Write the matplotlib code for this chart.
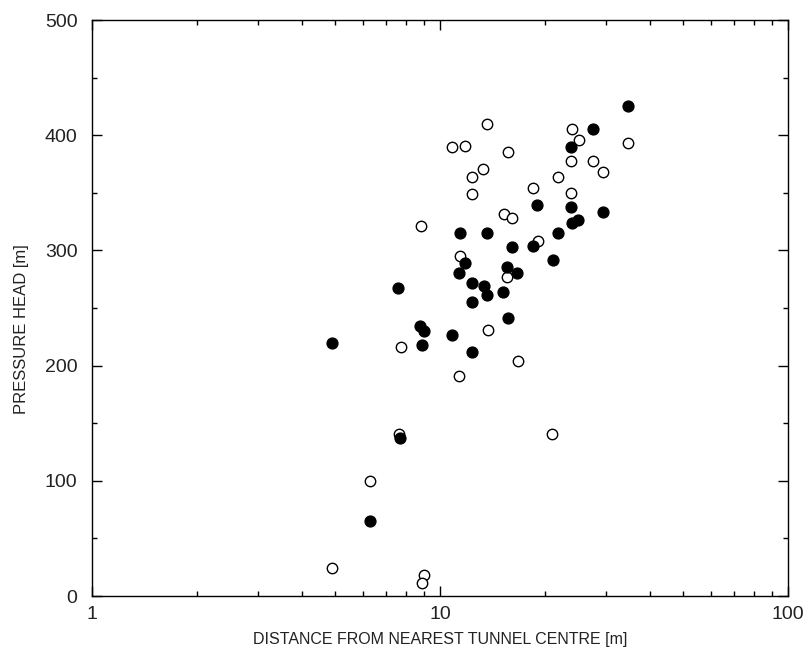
import matplotlib.pyplot as plt
from matplotlib.ticker import MultipleLocator, FixedLocator, NullFormatter

# Datos: distancia [m] y altura de presion [m]
filled_dist = [4.89, 7.57, 6.29, 7.67, 8.76, 9.00, 8.88, 10.83, 12.36, 11.80, 11.34,
               12.36, 13.38, 13.65, 12.36, 15.17, 15.68, 15.58, 16.65, 16.10, 18.50,
               21.12, 34.70, 27.52, 23.79, 19.00, 23.79, 29.40, 24.92, 23.95, 21.83,
               13.65, 11.41]
filled_head = [220, 267, 65, 137, 234, 230, 218, 227, 212, 289, 280,
               272, 269, 261, 255, 264, 241, 286, 280, 303, 304,
               292, 425, 405, 390, 339, 338, 333, 326, 324, 315,
               315, 315]

open_dist = [13.65, 10.83, 11.80, 13.29, 12.36, 12.36, 8.82, 11.41,
             15.68, 23.95, 25.08, 34.70, 23.79, 27.52, 29.40, 21.83, 18.50, 23.79,
             15.27, 16.10, 19.13,
             15.58, 7.73, 13.74, 11.34, 16.76,
             7.62, 20.98, 6.29, 4.89, 9.00, 8.88]
open_head = [410, 390, 391, 371, 364, 349, 321, 295,
             385, 405, 396, 393, 378, 378, 368, 364, 354, 350,
             332, 328, 308,
             277, 216, 231, 191, 204,
             141, 141, 100, 24, 18, 11]

plt.rcParams['font.family'] = ['Liberation Sans', 'DejaVu Sans']

fig = plt.figure(figsize=(8.1, 6.58), dpi=100)
ax = fig.add_axes([0.1136, 0.0942, 0.8593, 0.8754])

ax.plot(open_dist, open_head, 'o', ms=7.5, mfc='white', mec='black', mew=1.0, ls='none')
ax.plot(filled_dist, filled_head, 'o', ms=7.8, mfc='black', mec='black', mew=1.0, ls='none')

ax.set_xscale('log')
ax.set_xlim(1, 100)
ax.set_ylim(0, 500)
ax.xaxis.set_major_locator(FixedLocator([1, 10, 100]))
ax.set_xticklabels(['1', '10', '100'])
ax.xaxis.set_minor_locator(FixedLocator([m * d for d in (1, 10) for m in range(2, 10)]))
ax.xaxis.set_minor_formatter(NullFormatter())
ax.yaxis.set_major_locator(MultipleLocator(100))
ax.yaxis.set_minor_locator(MultipleLocator(50))

ax.tick_params(which='both', direction='in', top=True, right=True,
               labelsize=14, labelcolor='#222222', width=1.0)
ax.tick_params(which='major', length=7)
ax.tick_params(which='minor', length=3.5)
ax.tick_params(axis='y', which='major', pad=10.5)
ax.tick_params(axis='x', which='major', pad=7.5)
for s in ax.spines.values():
    s.set_linewidth(1.0)

ax.set_xlabel('DISTANCE FROM NEAREST TUNNEL CENTRE [m]', fontsize=11.5, color='#222222', labelpad=6)
ax.set_ylabel('PRESSURE HEAD [m]', fontsize=12, color='#222222', labelpad=11)
ax.yaxis.label.set_y(0.4635)

fig.savefig('out.png', dpi=100)
